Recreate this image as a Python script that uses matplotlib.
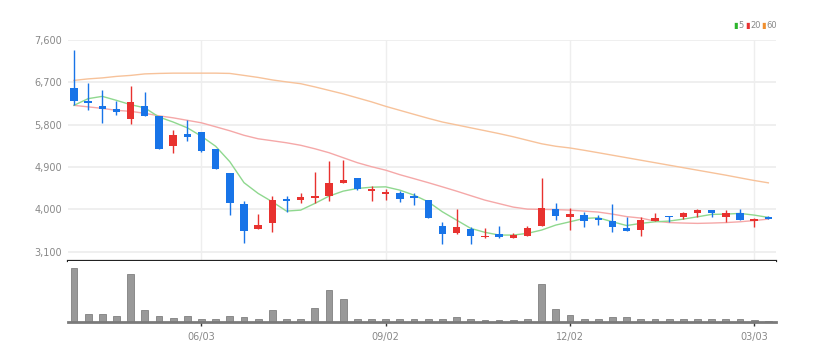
import numpy as np
import pandas as pd
import matplotlib
matplotlib.use('Agg')
import matplotlib.pyplot as plt

# weekly candles, 50 weeks starting 2024-04-01
dates = pd.date_range('2024-04-01', periods=50, freq='W-MON')
tick_idx = [9, 22, 35, 48]

opens = [6580, 6300, 6190, 6140, 5930, 6190, 5980, 5345, 5610, 5645,
         5275, 4765, 4115, 3580, 3705, 4215, 4200, 4250, 4285, 4555,
         4660, 4395, 4325, 4340, 4285, 4200, 3655, 3495, 3585, 3410,
         3470, 3400, 3435, 3650, 4000, 3845, 3880, 3810, 3755, 3600,
         3565, 3760, 3865, 3830, 3915, 3985, 3845, 3915, 3755, 3830]
highs = [7380, 6690, 6545, 6300, 6620, 6490, 5980, 5680, 5895, 5645,
         5275, 4765, 4185, 3900, 4285, 4285, 4340, 4800, 5025, 5045,
         4660, 4500, 4425, 4395, 4360, 4200, 3725, 4000, 3620, 3600,
         3650, 3505, 3650, 4670, 4140, 4035, 3950, 3880, 4110, 3845,
         3845, 3930, 3865, 3950, 4000, 3985, 3985, 4010, 3810, 3860]
lows = [6230, 6110, 5840, 6015, 5810, 5980, 5280, 5200, 5450, 5215,
        4870, 3880, 3280, 3580, 3515, 3950, 4130, 4140, 4180, 4555,
        4420, 4180, 4200, 4165, 4095, 3810, 3265, 3480, 3265, 3405,
        3385, 3395, 3435, 3640, 3775, 3565, 3635, 3670, 3515, 3545,
        3435, 3760, 3740, 3795, 3830, 3845, 3740, 3775, 3635, 3795]
closes = [6300, 6255, 6140, 6080, 6275, 5985, 5280, 5575, 5530, 5235,
          4870, 4130, 3540, 3670, 4200, 4180, 4255, 4290, 4555, 4625,
          4430, 4445, 4375, 4220, 4250, 3810, 3470, 3635, 3435, 3445,
          3420, 3455, 3600, 4035, 3860, 3900, 3760, 3775, 3635, 3550,
          3775, 3825, 3830, 3915, 3985, 3930, 3930, 3775, 3795, 3795]

ma5 = [6212, 6354, 6403, 6318, 6227, 6159, 5964, 5858, 5735, 5555,
       5343, 5015, 4570, 4341, 4163, 3966, 3987, 4129, 4284, 4390,
       4447, 4474, 4481, 4411, 4305, 4163, 3951, 3775, 3599, 3515,
       3457, 3457, 3493, 3563, 3669, 3739, 3811, 3824, 3739, 3659,
       3705, 3739, 3754, 3796, 3845, 3896, 3902, 3917, 3881, 3832]
ma20 = [6212, 6180, 6148, 6106, 6085, 6043, 5990, 5947, 5894, 5841,
        5757, 5672, 5576, 5502, 5460, 5417, 5364, 5290, 5206, 5100,
        4994, 4909, 4835, 4739, 4655, 4570, 4481, 4390, 4294, 4199,
        4125, 4051, 4008, 4002, 3998, 3987, 3966, 3945, 3902, 3849,
        3818, 3754, 3722, 3712, 3705, 3712, 3722, 3739, 3765, 3796]
ma60 = [6742, 6774, 6795, 6827, 6848, 6880, 6890, 6896, 6896, 6896,
        6896, 6890, 6848, 6805, 6752, 6710, 6672, 6604, 6530, 6456,
        6371, 6286, 6191, 6106, 6021, 5937, 5858, 5797, 5735, 5674,
        5612, 5545, 5470, 5396, 5343, 5307, 5258, 5206, 5153, 5100,
        5047, 4994, 4941, 4888, 4835, 4782, 4729, 4672, 4616, 4566]

# volume in thousand shares
volume = [1630, 250, 250, 180, 1450, 350, 180, 130, 180, 100,
          100, 180, 150, 100, 350, 80, 80, 430, 950, 680,
          100, 100, 80, 80, 80, 80, 100, 150, 80, 50,
          50, 50, 80, 1130, 380, 200, 100, 80, 150, 150,
          100, 100, 100, 80, 80, 80, 80, 80, 50, 20]

price_ticks = [3100, 4000, 4900, 5800, 6700, 7600]

up_color = '#e8322f'
down_color = '#1874e8'

plt.rcParams['font.family'] = ['Liberation Sans Narrow', 'DejaVu Sans']
plt.rcParams['font.size'] = 7

fig = plt.figure(figsize=(8.25, 3.62), dpi=100)
ax1 = fig.add_axes([0.0824, 0.279, 0.8582, 0.6105])
ax2 = fig.add_axes([0.0824, 0.1105, 0.8582, 0.1685], sharex=ax1)

x = np.arange(len(closes))

# grid
for yv in price_ticks:
    ax1.axhline(yv, color='#eeeeee', lw=1.3, zorder=0)
for i in tick_idx:
    ax1.axvline(i, color='#eeeeee', lw=1.0, zorder=0)

# moving averages
ax1.plot(x, ma60, color='#f7c29a', lw=1.0, zorder=2)
ax1.plot(x, ma20, color='#f5a8a8', lw=1.0, zorder=2)
ax1.plot(x, ma5, color='#8fd88f', lw=1.0, zorder=2)

# candles
for i in x:
    o, h, l, c = opens[i], highs[i], lows[i], closes[i]
    col = up_color if c >= o else down_color
    ax1.vlines(i, l, h, color=col, lw=1.0, zorder=3)
    body = max(abs(c - o), 18)
    ax1.bar(i, body, bottom=min(o, c), width=0.52, color=col, zorder=4)

ax1.set_xlim(-0.42, 49.54)
ax1.set_ylim(2906, 7600)
ax1.set_yticks(price_ticks)
ax1.set_yticklabels([f'{v:,}' for v in price_ticks], color='#888888')
ax1.tick_params(axis='y', length=0, pad=4, labelsize=7)
ax1.tick_params(axis='x', length=0, labelbottom=False)
for s in ['top', 'right', 'left']:
    ax1.spines[s].set_visible(False)
ax1.spines['bottom'].set_color('#222222')
ax1.spines['bottom'].set_linewidth(1.6)

# volume
ax2.bar(x, volume, width=0.48, color='#999999', edgecolor='#808080', lw=0.6)
ax2.set_ylim(0, 1830)
ax2.set_yticks([])
for s in ['top', 'right', 'left']:
    ax2.spines[s].set_visible(False)
ax2.spines['bottom'].set_color('#7a7a7a')
ax2.spines['bottom'].set_linewidth(2.0)
ax2.set_xticks(tick_idx)
ax2.set_xticklabels([dates[i].strftime('%m/%d') for i in tick_idx], color='#888888')
ax2.tick_params(axis='x', length=3, width=1, color='#333333', pad=4, labelsize=7)

# legend
legend_items = [('5', '#2db52d', 733), ('20', '#e83232', 745), ('60', '#f09030', 761)]
for label, col, px in legend_items:
    fig.text(px / 825, 0.930, '▮', color=col, fontsize=6, ha='left', va='center')
    fig.text((px + 5) / 825, 0.930, label, color='#888888', fontsize=6, ha='left', va='center')

plt.savefig('out.png', dpi=100)
